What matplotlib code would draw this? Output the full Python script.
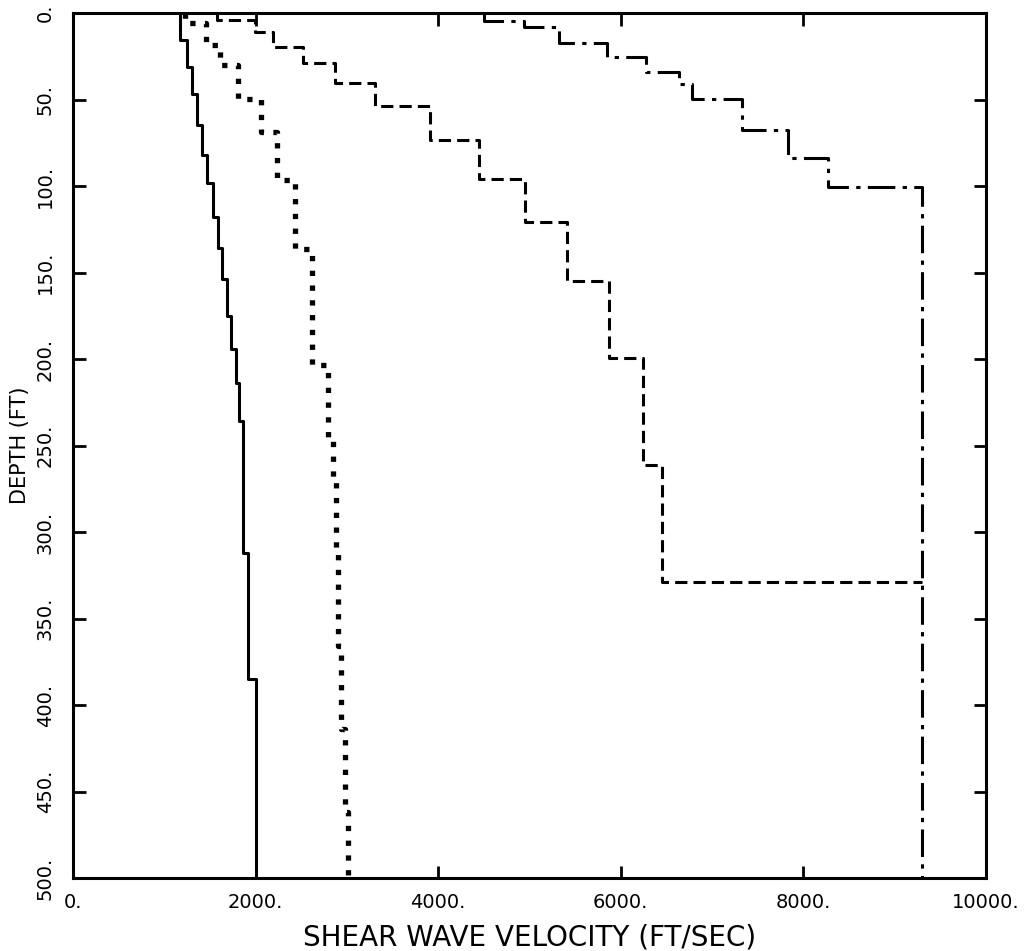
import matplotlib
matplotlib.use("Agg")
import matplotlib.pyplot as plt

# layer profiles: velocity (ft/sec) of each layer and depth (ft) of its top
solid_vel = [1170, 1250, 1300, 1360, 1415, 1470, 1535, 1590, 1630, 1685, 1730, 1785, 1820, 1860, 1915, 2000]
solid_top = [0, 15.6, 31, 47, 65, 82, 98, 118, 136, 154, 175, 194, 214, 236, 312, 385]

dot_vel = [1230, 1460, 1610, 1810, 2060, 2235, 2430, 2620, 2795, 2850, 2880, 2905, 2940, 2975, 3010]
dot_top = [0, 5.8, 18.5, 30, 49.7, 69, 96.5, 136.4, 203.5, 245, 270, 309, 366, 414, 462]

# the last dashed layer (9300) sits on top of the dash-dot line, so it is drawn only to its top
dash_vel = [1580, 1990, 2190, 2520, 2870, 3310, 3910, 4450, 4950, 5410, 5870, 6240, 6450, 9300]
dash_top = [0, 4, 11, 19.6, 29, 40.5, 53.5, 73.4, 96, 121, 155, 199.5, 261, 329]

dd_vel = [4500, 4940, 5320, 5850, 6280, 6640, 6780, 7330, 7830, 8270, 9300]
dd_top = [0, 4.6, 8.1, 17.3, 25.4, 34.1, 41, 49.7, 67.6, 83.8, 100.6]

max_depth = 500
x_ticks = [0, 2000, 4000, 6000, 8000, 10000]
y_ticks = list(range(0, 501, 50))


def profile(vel, top, bottom=max_depth):
    # drawn with steps-pre: vertical inside a layer, then horizontal to the next one
    if bottom <= top[-1]:
        return vel, top
    return vel + [vel[-1]], top + [bottom]


fig = plt.figure(figsize=(10.26, 9.51), dpi=100)
ax = fig.add_axes([73 / 1026, 1 - 878 / 951, 913 / 1026, 865 / 951])

x, y = profile(solid_vel, solid_top)
ax.plot(x, y, drawstyle='steps-pre', color='black', lw=2.2)

x, y = profile(dot_vel, dot_top)
ax.plot(x, y, drawstyle='steps-pre', color='black', lw=3.8,
        linestyle=(0, (1, 1.8)))

x, y = profile(dash_vel, dash_top, bottom=dash_top[-1])
ax.plot(x, y, drawstyle='steps-pre', color='black', lw=2.2,
        linestyle=(0, (4, 2)))

x, y = profile(dd_vel, dd_top)
ax.plot(x, y, drawstyle='steps-pre', color='black', lw=2.2,
        linestyle=(0, (9, 2.4, 1.4, 2.4)))

ax.set_xlim(0, 10000)
ax.set_ylim(max_depth, 0)

ax.set_xticks(x_ticks)
ax.set_xticklabels([f"{v}." for v in x_ticks], fontsize=14)
ax.set_yticks(y_ticks)
ax.set_yticklabels([f"{v}." for v in y_ticks], fontsize=14, rotation=90, va='center')

ax.tick_params(direction='in', length=9, width=2, top=True, right=True)
ax.tick_params(axis='x', pad=11)
ax.tick_params(axis='y', pad=13)
for s in ax.spines.values():
    s.set_linewidth(2.2)

ax.set_xlabel("SHEAR WAVE VELOCITY (FT/SEC)", fontsize=20)
ax.xaxis.set_label_coords(0.5, -0.053)
ax.set_ylabel("DEPTH (FT)", fontsize=15)
ax.yaxis.set_label_coords(-0.047, 0.5)

fig.savefig("out.png", dpi=100)
